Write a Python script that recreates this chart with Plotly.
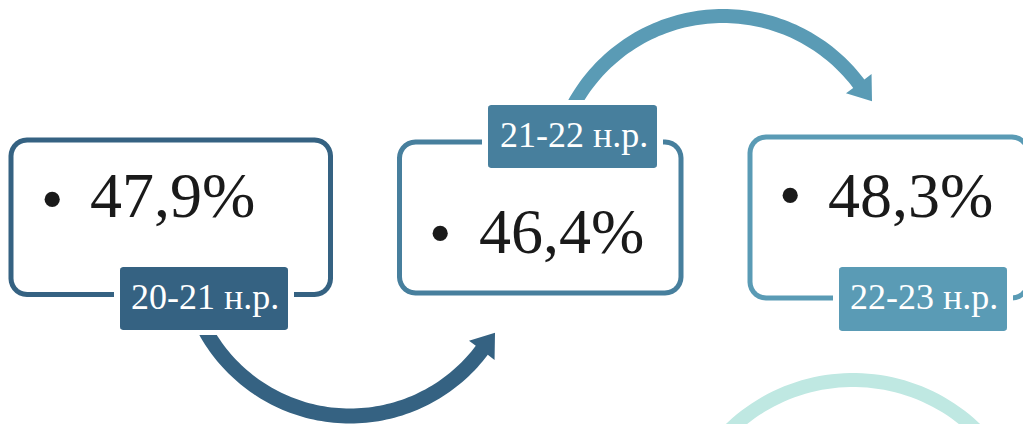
import numpy as np
import plotly.graph_objects as go

# ---- data ----
values = ["47,9%", "46,4%", "48,3%"]
years = ["20-21 н.р.", "21-22 н.р.", "22-23 н.р."]
colors = ["#356282", "#477f9d", "#5a9bb5"]
light = "#bfe8e2"
dark = "#1a1a1a"
FONT = "Liberation Serif"

W, H = 1023, 424

# ---- layout constants (pixels) ----
boxes = [  # x0, y0, x1, y1 (stroke centre-line)
    (11, 140, 330.5, 294.5),
    (399.5, 142, 681, 293),
    (750, 137, 1028, 298),
]
label_boxes = [
    (120, 267, 288, 330),
    (488, 105, 657, 168),
    (839, 267, 1007, 331),
]
value_pos = [(88, 195.5, 52, 199), (477, 231, 440, 233), (826, 195, 790, 195)]

shapes = []


def rrect_path(x0, y0, x1, y1, r, n=8):
    pts = []
    corners = [
        (x1 - r, y0 + r, -90, 0),
        (x1 - r, y1 - r, 0, 90),
        (x0 + r, y1 - r, 90, 180),
        (x0 + r, y0 + r, 180, 270),
    ]
    for cx, cy, a0, a1 in corners:
        for a in np.linspace(np.radians(a0), np.radians(a1), n):
            pts.append((cx + r * np.cos(a), cy + r * np.sin(a)))
    return "M " + " L ".join(f"{x:.2f},{y:.2f}" for x, y in pts) + " Z"


def arrow_path(cx, cy, r, w, a0, a1, head=True, hw=16, hl=22, n=90):
    angs = np.radians(np.linspace(a0, a1, n))
    ro, ri = r + w / 2, r - w / 2
    outer = [(cx + ro * np.cos(a), cy + ro * np.sin(a)) for a in angs]
    inner = [(cx + ri * np.cos(a), cy + ri * np.sin(a)) for a in angs[::-1]]
    pts = outer[:]
    if head:
        ae = angs[-1]
        s = np.sign(a1 - a0)
        tx, ty = -s * np.sin(ae), s * np.cos(ae)
        bx, by = cx + r * np.cos(ae), cy + r * np.sin(ae)
        pts.append((cx + (r + hw) * np.cos(ae), cy + (r + hw) * np.sin(ae)))
        pts.append((bx + tx * hl, by + ty * hl))
        pts.append((cx + (r - hw) * np.cos(ae), cy + (r - hw) * np.sin(ae)))
    pts += inner
    return "M " + " L ".join(f"{x:.2f},{y:.2f}" for x, y in pts) + " Z"


# box outlines
for (x0, y0, x1, y1), c in zip(boxes, colors):
    shapes.append(dict(type="path", xref="x", yref="y", path=rrect_path(x0, y0, x1, y1, 16),
                       line=dict(color=c, width=5), fillcolor="rgba(0,0,0,0)"))

# curved arrows
shapes.append(dict(type="path", xref="x", yref="y",
                   path=arrow_path(350, 251, 165, 15, 158, 37),
                   line=dict(width=0), fillcolor=colors[0]))
shapes.append(dict(type="path", xref="x", yref="y",
                   path=arrow_path(723, 186, 170, 14, -158, -37),
                   line=dict(width=0), fillcolor=colors[2]))
shapes.append(dict(type="path", xref="x", yref="y",
                   path=arrow_path(853, 557, 177, 14, -175, -5, head=False),
                   line=dict(width=0), fillcolor=light))

# white pads + labels
for (x0, y0, x1, y1), c in zip(label_boxes, colors):
    shapes.append(dict(type="rect", xref="x", yref="y", x0=x0 - 6, x1=x1 + 6, y0=y0 - 5, y1=y1 + 5,
                       line=dict(width=0), fillcolor="white"))
    shapes.append(dict(type="path", xref="x", yref="y", path=rrect_path(x0, y0, x1, y1, 3, 4),
                       line=dict(width=0), fillcolor=c))

annotations = []
for (tx, ty, bx, by), v in zip(value_pos, values):
    annotations.append(dict(x=tx, y=ty, xref="x", yref="y", text=v, showarrow=False,
                            xanchor="left", yanchor="middle",
                            font=dict(family=FONT, size=64, color=dark)))
    annotations.append(dict(x=bx, y=by, xref="x", yref="y", text="•", showarrow=False,
                            xanchor="center", yanchor="middle",
                            font=dict(family=FONT, size=64, color=dark)))
for (x0, y0, x1, y1), t in zip(label_boxes, years):
    annotations.append(dict(x=(x0 + x1) / 2 + 1, y=(y0 + y1) / 2 - 2, xref="x", yref="y", text=t,
                            showarrow=False, xanchor="center", yanchor="middle",
                            font=dict(family=FONT, size=36, color="white")))

fig = go.Figure(go.Scatter(x=[0, W], y=[0, H], mode="markers", marker=dict(opacity=0),
                           hoverinfo="skip"))
fig.update_layout(width=W, height=H, margin=dict(l=0, r=0, t=0, b=0),
                  paper_bgcolor="white", plot_bgcolor="white", showlegend=False,
                  xaxis=dict(range=[0, W], visible=False, fixedrange=True),
                  yaxis=dict(range=[H, 0], visible=False, fixedrange=True),
                  shapes=shapes, annotations=annotations)
fig.write_html("out.html", config=dict(displayModeBar=False),
               post_script="document.body.style.margin='0px';document.body.style.overflow='hidden';")
